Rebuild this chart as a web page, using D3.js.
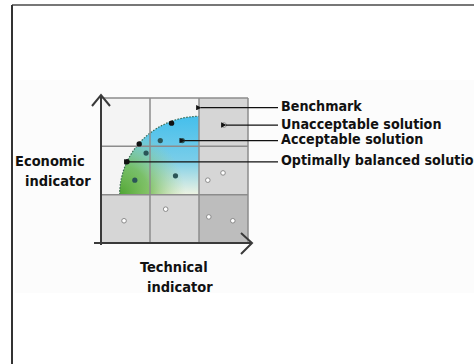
<!DOCTYPE html>
<html>
<head>
<meta charset="utf-8">
<script src="https://cdn.jsdelivr.net/npm/d3@7"></script>
<style>
    body { margin: 0; background: #fff; }
    svg { display: block; }
    .lbl { font-family: "DejaVu Sans Condensed", "DejaVu Sans", sans-serif; font-weight: bold; font-stretch: condensed; fill: #111; }
</style>
</head>
<body>
<svg id="chart"></svg>
<script>
// Chart values (both axes run 0..3, the grid splits each into three bands)
const gridBreaks = [0, 1, 2, 3];
const benchmark = {x: 2, y: 1, radius: 1.62};

const optimalPoints = [[1.44, 2.48], [0.78, 2.05], [0.53, 1.68]];
const acceptablePoints = [[1.21, 2.12], [1.66, 2.12], [0.92, 1.86], [0.69, 1.30], [1.52, 1.39]];
const unacceptablePoints = [[2.51, 2.44], [2.49, 1.45], [2.18, 1.30], [1.32, 0.70], [0.47, 0.46], [2.20, 0.54], [2.69, 0.46]];

const legendLabels = ["Benchmark", "Unacceptable solution", "Acceptable solution", "Optimally balanced solution"];
// which mark each legend line points at
const legendTargets = [[2, 2.80], unacceptablePoints[0], acceptablePoints[1], optimalPoints[2]];

const yAxisLabel = ["Economic", "indicator"];
const xAxisLabel = ["Technical", "indicator"];

const width = 474;
const height = 364;

const svg = d3.select("#chart")
    .attr("width", width)
    .attr("height", height);

// faint backdrop of the figure
svg.append("rect").attr("x", 15).attr("y", 80).attr("width", 459).attr("height", 213)
    .attr("fill", "#fcfcfc");

// Frame lines at top and left of the picture
svg.append("line").attr("x1", 12).attr("y1", 5).attr("x2", width).attr("y2", 5)
    .attr("stroke", "#4a4a4a").attr("stroke-width", 1.5);
svg.append("line").attr("x1", 12).attr("y1", 5).attr("x2", 12).attr("y2", height)
    .attr("stroke", "#333").attr("stroke-width", 2);

const x = d3.scaleLinear().domain([0, 3]).range([101, 248]);
const y = d3.scaleLinear().domain([0, 3]).range([243, 98]);

const defs = svg.append("defs");

const blueGrad = defs.append("linearGradient").attr("id", "blueGrad")
    .attr("x1", 0).attr("y1", 0).attr("x2", 0).attr("y2", 1);
blueGrad.append("stop").attr("offset", "0%").attr("stop-color", "#45bfec");
blueGrad.append("stop").attr("offset", "55%").attr("stop-color", "#78cde9");
blueGrad.append("stop").attr("offset", "100%").attr("stop-color", "#eef3e2");

const greenGrad = defs.append("radialGradient").attr("id", "greenGrad")
    .attr("gradientUnits", "userSpaceOnUse")
    .attr("cx", x(benchmark.x - benchmark.radius)).attr("cy", y(benchmark.y))
    .attr("r", 66);
greenGrad.append("stop").attr("offset", "0%").attr("stop-color", "#4fa534").attr("stop-opacity", 1);
greenGrad.append("stop").attr("offset", "45%").attr("stop-color", "#6db84a").attr("stop-opacity", 0.8);
greenGrad.append("stop").attr("offset", "100%").attr("stop-color", "#a9d38a").attr("stop-opacity", 0);

const marker = defs.append("marker").attr("id", "head")
    .attr("viewBox", "0 0 10 10").attr("refX", 1).attr("refY", 5)
    .attr("markerWidth", 4.5).attr("markerHeight", 4.5).attr("orient", "auto-start-reverse");
marker.append("path").attr("d", "M0,5 L10,0 L10,10 Z").attr("fill", "#111");

// Grid cells
const cells = [];
for (let i = 0; i < 3; i++) {
    for (let j = 0; j < 3; j++) {
        cells.push({i: i, j: j});
    }
}

function cellColor(d) {
    if (d.i === 2 && d.j === 0) return "#bdbdbd";
    if (d.i === 2 || d.j === 0) return "#d6d6d6";
    return "#f4f4f4";
}

svg.append("g").selectAll("rect")
    .data(cells)
    .join("rect")
    .attr("x", d => x(gridBreaks[d.i]))
    .attr("y", d => y(gridBreaks[d.j + 1]))
    .attr("width", d => x(gridBreaks[d.i + 1]) - x(gridBreaks[d.i]))
    .attr("height", d => y(gridBreaks[d.j]) - y(gridBreaks[d.j + 1]))
    .attr("fill", cellColor);

// Quarter disc of acceptable solutions under the benchmark
const arcPts = d3.range(0, 91, 3).map(function (deg) {
    let t = deg * Math.PI / 180;
    return [benchmark.x - benchmark.radius * Math.cos(t), benchmark.y + benchmark.radius * Math.sin(t)];
});
const discPts = arcPts.concat([[benchmark.x, benchmark.y]]);
const line = d3.line().x(d => x(d[0])).y(d => y(d[1]));

svg.append("path").attr("d", line(discPts) + "Z").attr("fill", "url(#blueGrad)");
svg.append("path").attr("d", line(discPts) + "Z").attr("fill", "url(#greenGrad)");
svg.append("path").attr("d", line(arcPts))
    .attr("fill", "none").attr("stroke", "#3a6a52").attr("stroke-width", 1.2)
    .attr("stroke-dasharray", "1.5,1.5");

// Grid lines
svg.append("g").selectAll("line.v")
    .data(gridBreaks.slice(1))
    .join("line")
    .attr("x1", d => x(d)).attr("x2", d => x(d))
    .attr("y1", y(3)).attr("y2", y(0))
    .attr("stroke", "#8c8c8c").attr("stroke-width", 1.5);
svg.append("g").selectAll("line.h")
    .data(gridBreaks.slice(1))
    .join("line")
    .attr("x1", x(0)).attr("x2", x(3))
    .attr("y1", d => y(d)).attr("y2", d => y(d))
    .attr("stroke", "#8c8c8c").attr("stroke-width", 1.5);

// Axes with open arrow heads
const axisColor = "#3a3a3a";
svg.append("line").attr("x1", x(0)).attr("y1", y(0) + 2).attr("x2", x(0)).attr("y2", 95)
    .attr("stroke", axisColor).attr("stroke-width", 2);
svg.append("path").attr("d", `M${x(0) - 9},${106} L${x(0)},${95} L${x(0) + 9},${106}`)
    .attr("fill", "none").attr("stroke", axisColor).attr("stroke-width", 2);
svg.append("line").attr("x1", 94).attr("y1", y(0)).attr("x2", 252).attr("y2", y(0))
    .attr("stroke", axisColor).attr("stroke-width", 2);
svg.append("path").attr("d", `M241,${y(0) - 10} L252,${y(0)} L241,${y(0) + 11}`)
    .attr("fill", "none").attr("stroke", axisColor).attr("stroke-width", 2);

// Points
svg.append("g").selectAll("circle")
    .data(unacceptablePoints)
    .join("circle")
    .attr("cx", d => x(d[0])).attr("cy", d => y(d[1])).attr("r", 2.3)
    .attr("fill", "#fff").attr("stroke", "#8a8a8a").attr("stroke-width", 1);

svg.append("g").selectAll("circle")
    .data(acceptablePoints)
    .join("circle")
    .attr("cx", d => x(d[0])).attr("cy", d => y(d[1])).attr("r", 2.6)
    .attr("fill", "#2b5557");

svg.append("g").selectAll("circle")
    .data(optimalPoints)
    .join("circle")
    .attr("cx", d => x(d[0])).attr("cy", d => y(d[1])).attr("r", 2.7)
    .attr("fill", "#111");

// Legend pointers and labels
const textX = 281;
const legend = svg.append("g");
legend.selectAll("line")
    .data(legendTargets)
    .join("line")
    .attr("x1", 278).attr("y1", d => y(d[1]))
    .attr("x2", d => x(d[0]) + 2).attr("y2", d => y(d[1]))
    .attr("stroke", "#111").attr("stroke-width", 1.2)
    .attr("marker-end", "url(#head)");

legend.selectAll("text")
    .data(legendLabels)
    .join("text")
    .attr("class", "lbl")
    .attr("x", textX)
    .attr("y", (d, i) => y(legendTargets[i][1]) - 1.5)
    .attr("dominant-baseline", "central")
    .attr("font-size", 14.2)
    .text(d => d);

svg.append("g").selectAll("text")
    .data(yAxisLabel)
    .join("text")
    .attr("class", "lbl")
    .attr("x", (d, i) => i === 0 ? 15 : 25)
    .attr("y", (d, i) => 161 + i * 20)
    .attr("dominant-baseline", "central")
    .attr("font-size", 14.5)
    .text(d => d);

svg.append("g").selectAll("text")
    .data(xAxisLabel)
    .join("text")
    .attr("class", "lbl")
    .attr("x", (d, i) => i === 0 ? 140 : 147)
    .attr("y", (d, i) => 267 + i * 20)
    .attr("dominant-baseline", "central")
    .attr("font-size", 14.5)
    .text(d => d);
</script>
</body>
</html>
